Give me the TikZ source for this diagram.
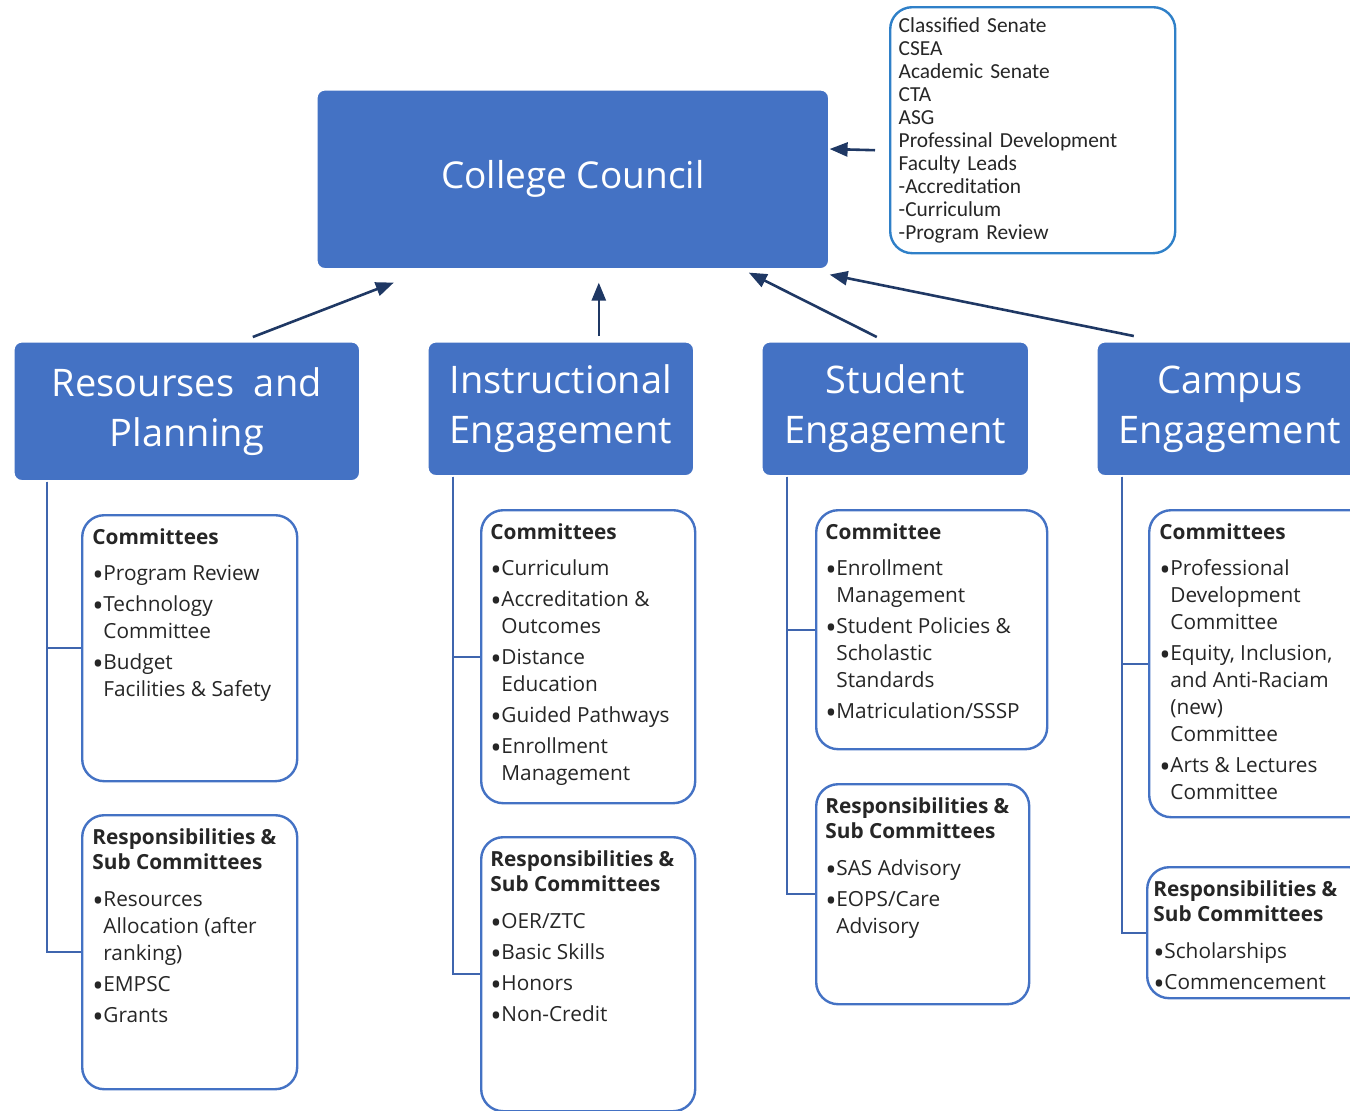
\documentclass[tikz,border=0pt]{standalone}
\usepackage{fontspec}
\usepackage{graphicx}
\setmainfont{Open Sans}
\newfontfamily\calib{Carlito}
\usetikzlibrary{arrows.meta}
\definecolor{council}{HTML}{4472C4}
\definecolor{navy}{HTML}{1F3864}
\definecolor{linkblue}{HTML}{3F65AE}
\definecolor{sideblue}{HTML}{2F80C8}
\newcommand{\bul}{\makebox[5.5pt][l]{\raisebox{-0.5ex}{\scalebox{1.45}{\textbullet}}}}
\newcommand{\ind}{\hspace*{5.5pt}}

\begin{document}
\begin{tikzpicture}
[
    x=0.5pt, y=-0.5pt,
    head/.style={anchor=north west, fill=council, draw=white, line width=0.8pt, rounded corners=4pt, text=white, align=center, font=\fontsize{19}{25}\selectfont},
    listbox/.style={anchor=north west, draw=council, line width=1.2pt, rounded corners=11pt, fill=white},
    listtext/.style={anchor=north west, inner sep=0pt, align=left, text=black!85, font=\fontsize{10.4}{13.5}\selectfont},
    up/.style={draw=navy, line width=1.3pt, -{Triangle[length=9pt,width=7pt]}},
    link/.style={draw=linkblue, line width=1pt},
]
\clip (0,0) rectangle (1350,1110);
\node[head, minimum width=256pt, minimum height=89.5pt, font=\fontsize{18.5}{25}\selectfont] (cc) at (316,89) {College Council};
\node[anchor=north west, draw=sideblue, line width=1.2pt, rounded corners=11pt, align=left, text width=134pt, inner xsep=4.25pt, inner ysep=2.5pt, minimum height=123pt, text=black!85, font=\calib\fontsize{10.7}{11.5}\selectfont] (side) at (889,6)
    {Classified Senate\\CSEA\\Academic Senate\\CTA\\ASG\\Professinal Development\\Faculty Leads\\-Accreditation\\-Curriculum\\-Program Review};

\node[head, minimum width=173pt, minimum height=69.5pt] (rp) at (13,341) {Resourses\ \ and\\Planning};
\node[head, minimum width=133pt, minimum height=67pt] (ie) at (427,341) {Instructional\\Engagement};
\node[head, minimum width=133.5pt, minimum height=67pt] (se) at (761,341) {Student\\Engagement};
\node[head, minimum width=133pt, minimum height=67pt] (ce) at (1096,341) {Campus\\Engagement};

\node[listbox, minimum width=107.5pt, minimum height=133pt] (rpc) at (81,514) {};
\node[listbox, minimum width=107.5pt, minimum height=137pt] (rpr) at (81,814) {};
\node[listbox, minimum width=107pt, minimum height=146.5pt] (iec) at (480,509) {};
\node[listbox, minimum width=107pt, minimum height=137pt] (ier) at (480,836) {};
\node[listbox, minimum width=115.5pt, minimum height=119.5pt] (sec) at (815,509) {};
\node[listbox, minimum width=106.5pt, minimum height=110pt] (ser) at (815,783) {};
\node[listbox, minimum width=112pt, minimum height=153.5pt] (cec) at (1148,509) {};
\node[listbox, minimum width=112pt, minimum height=65.5pt] (cer) at (1146,866) {};

\node[listtext] (rpctxt) at ([shift={(11,14)}]rpc.north west)
    {\textbf{Committees}\\[4.5pt]
     \bul Program Review\\[2pt]
     \bul Technology\\
     \ind Committee\\[2pt]
     \bul Budget\\
     \ind Facilities \& Safety};
\node[listtext] (rprtxt) at ([shift={(11,14)}]rpr.north west)
    {\textbf{Responsibilities \&}\\[-1pt]
     \textbf{Sub Committees}\\[5pt]
     \bul Resources\\
     \ind Allocation (after\\
     \ind ranking)\\[2pt]
     \bul EMPSC\\[2pt]
     \bul Grants};
\node[listtext] (iectxt) at ([shift={(10,14)}]iec.north west)
    {\textbf{Committees}\\[4.5pt]
     \bul Curriculum\\[2pt]
     \bul Accreditation \&\\
     \ind Outcomes\\[2pt]
     \bul Distance\\
     \ind Education\\[2pt]
     \bul Guided Pathways\\[2pt]
     \bul Enrollment\\
     \ind Management};
\node[listtext] (iertxt) at ([shift={(10,14)}]ier.north west)
    {\textbf{Responsibilities \&}\\[-1pt]
     \textbf{Sub Committees}\\[5pt]
     \bul OER/ZTC\\[2pt]
     \bul Basic Skills\\[2pt]
     \bul Honors\\[2pt]
     \bul Non-Credit};
\node[listtext] (sectxt) at ([shift={(10,14)}]sec.north west)
    {\textbf{Committee}\\[4.5pt]
     \bul Enrollment\\
     \ind Management\\[2pt]
     \bul Student Policies \&\\
     \ind Scholastic\\
     \ind Standards\\[2pt]
     \bul Matriculation/SSSP};
\node[listtext] (sertxt) at ([shift={(10,14)}]ser.north west)
    {\textbf{Responsibilities \&}\\[-1pt]
     \textbf{Sub Committees}\\[5pt]
     \bul SAS Advisory\\[2pt]
     \bul EOPS/Care\\
     \ind Advisory};
\node[listtext] (cectxt) at ([shift={(11,14)}]cec.north west)
    {\textbf{Committees}\\[4.5pt]
     \bul Professional\\
     \ind Development\\
     \ind Committee\\[2pt]
     \bul Equity, Inclusion,\\
     \ind and Anti-Raciam\\
     \ind (new)\\
     \ind Committee\\[2pt]
     \bul Arts \& Lectures\\
     \ind Committee};
\node[listtext] (certxt) at ([shift={(7,14)}]cer.north west)
    {\textbf{Responsibilities \&}\\[-1pt]
     \textbf{Sub Committees}\\[5pt]
     \bul Scholarships\\[2pt]
     \bul Commencement};

\draw[up] ([shift={(66,-4)}]rp.north) -- ([shift={(-179,13)}]cc.south);
\draw[up] ([shift={(38,-5)}]ie.north) -- ([shift={(26,13)}]cc.south);
\draw[up] ([shift={(-18.5,-4)}]se.north) -- ([shift={(176,3)}]cc.south);
\draw[up] ([shift={(-96,-5)}]ce.north) -- ([shift={(0,5)}]cc.south east);
\draw[up] ([shift={(-14,20)}]side.west) -- ([shift={(0,60)}]cc.north east);

\draw[link] ([shift={(34,0)}]rp.south west) |- (rpr.west);
\draw[link] ([shift={(34,0)}]rp.south west) |- (rpc.west);
\draw[link] ([shift={(26,0)}]ie.south west) |- (ier.west);
\draw[link] ([shift={(26,0)}]ie.south west) |- (iec.west);
\draw[link] ([shift={(26,0)}]se.south west) |- (ser.west);
\draw[link] ([shift={(26,0)}]se.south west) |- (sec.west);
\draw[link] ([shift={(26,0)}]ce.south west) |- (cer.west);
\draw[link] ([shift={(26,0)}]ce.south west) |- (cec.west);
\end{tikzpicture}
\end{document}
